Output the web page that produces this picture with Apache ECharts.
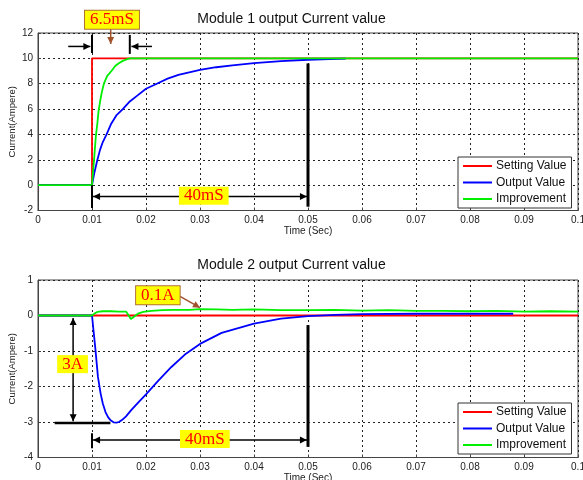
<!DOCTYPE html>
<html><head><meta charset="utf-8">
<script src="https://cdn.jsdelivr.net/npm/echarts@6/dist/echarts.min.js"></script>
<style>html,body{margin:0;padding:0;background:#fff}#c{width:583px;height:480px}</style>
</head><body><div id="c"></div>
<script>
// ---------- data ----------
const seriesNames = ['Setting Value', 'Output Value', 'Improvement'];
const titles = ['Module 1 output Current value', 'Module 2 output Current value'];
const xTickMin = 0, xTickMax = 0.1, xTickStep = 0.01;
const yTicks1 = {min: -2, max: 12, step: 2};
const yTicks2 = {min: -4, max: 1, step: 1};

// Module 1
const setTime1 = [0, 0.01, 0.01, 0.1];
const setVal1  = [0, 0, 10, 10];
const outTime1 = [0, 0.01, 0.0105, 0.011, 0.0115, 0.012, 0.0127, 0.0135, 0.0145, 0.0157, 0.017, 0.0185, 0.020, 0.022, 0.024, 0.026, 0.028, 0.030, 0.033, 0.036, 0.040, 0.045, 0.050, 0.054, 0.057];
const outVal1  = [0, 0, 1.1, 2.0, 2.8, 3.4, 4.0, 4.8, 5.5, 6.0, 6.6, 7.1, 7.6, 8.0, 8.4, 8.7, 8.9, 9.09, 9.3, 9.45, 9.63, 9.78, 9.89, 9.95, 9.98];
const impTime1 = [0, 0.01, 0.0102, 0.0104, 0.0107, 0.011, 0.0112, 0.0115, 0.0118, 0.0122, 0.0128, 0.0136, 0.0143, 0.0149, 0.0157, 0.0164, 0.017, 0.1];
const impVal1  = [0, 0, 1.1, 2.1, 3.8, 4.9, 5.8, 6.6, 7.3, 8.0, 8.6, 9.0, 9.4, 9.6, 9.8, 9.92, 10, 10];

// Module 2
const setTime2 = [0, 0.1];
const setVal2  = [0, 0];
const outTime2 = [0, 0.01, 0.0103, 0.0106, 0.0111, 0.0116, 0.012, 0.0125, 0.013, 0.0135, 0.014, 0.0145, 0.015, 0.0156, 0.0163, 0.0173, 0.0185, 0.02, 0.0222, 0.0247, 0.0272, 0.03, 0.034, 0.04, 0.045, 0.05, 0.055, 0.06, 0.07, 0.08, 0.088];
const outVal2  = [0, 0, -0.45, -0.9, -1.73, -2.2, -2.48, -2.72, -2.87, -2.96, -3.01, -3.02, -3.0, -2.94, -2.84, -2.66, -2.46, -2.22, -1.85, -1.45, -1.1, -0.8, -0.49, -0.23, -0.09, -0.02, 0.02, 0.04, 0.05, 0.05, 0.05];
const impTime2 = [0, 0.01, 0.0105, 0.011, 0.012, 0.0135, 0.015, 0.0163, 0.0168, 0.0172, 0.0177, 0.0185, 0.0195, 0.021, 0.023, 0.025, 0.028, 0.03, 0.033, 0.036, 0.04, 0.045, 0.05, 0.055, 0.06, 0.065, 0.07, 0.075, 0.08, 0.085, 0.09, 0.095, 0.1];
const impVal2  = [0, 0, 0.06, 0.1, 0.12, 0.12, 0.11, 0.11, 0.0, -0.1, -0.04, 0.05, 0.1, 0.13, 0.15, 0.16, 0.16, 0.18, 0.17, 0.16, 0.17, 0.15, 0.15, 0.16, 0.14, 0.15, 0.13, 0.13, 0.12, 0.13, 0.11, 0.12, 0.11];

// annotations (data coordinates)
const annoLines = [
  {g:0, a:[0.01, 11.87], b:[0.01, 10.42], w:2},
  {g:0, a:[0.0170, 11.85], b:[0.0170, 10.35], w:2},
  {g:0, a:[0.01, 0], b:[0.01, -1.8], w:2},
  {g:0, a:[0.05, 9.6], b:[0.05, -1.7], w:3},
  {g:1, a:[0.0031, -3.03], b:[0.0134, -3.03], w:2.5},
  {g:1, a:[0.01, -3.32], b:[0.01, -3.74], w:2},
  {g:1, a:[0.05, -0.27], b:[0.05, -3.7], w:3}
];
const annoArrows = [
  {g:0, a:[0.0056, 10.94], b:[0.0097, 10.94], both:false, c:'#000'},
  {g:0, a:[0.0211, 10.94], b:[0.0173, 10.94], both:false, c:'#000'},
  {g:0, a:[0.0102, -0.9], b:[0.0498, -0.9], both:true, c:'#000'},
  {g:0, a:[0.01346, 12.39], b:[0.01346, 11.13], both:false, c:'#a0522d'},
  {g:1, a:[0.0065, -0.07], b:[0.0065, -2.98], both:true, c:'#000'},
  {g:1, a:[0.0102, -3.51], b:[0.0498, -3.51], both:true, c:'#000'},
  {g:1, a:[0.0263, 0.54], b:[0.030, 0.22], both:false, c:'#a0522d'}
];
const annoLabels = [
  {g:0, p:[0.0137, 13.05], text:'6.5mS', border:true},
  {g:0, p:[0.0307, -0.83], text:'40mS', border:false},
  {g:1, p:[0.0222, 0.57], text:'0.1A', border:true},
  {g:1, p:[0.0064, -1.37], text:'3A', border:false},
  {g:1, p:[0.0309, -3.48], text:'40mS', border:false}
];

// ---------- chart ----------
const FONT = '"Liberation Sans", Arial, sans-serif';
const SERIF = '"Liberation Serif", "Times New Roman", serif';
const colors = ['#ff0000', '#0000ff', '#00ee00'];
const chart = echarts.init(document.getElementById('c'));
const pairs = (t, v) => t.map((x, i) => [x, v[i]]);

const gridTop = [33, 280];
function xAx(g) {
  return {
    type: 'value', gridIndex: g, min: xTickMin, max: xTickMax, interval: xTickStep,
    name: 'Time (Sec)', nameLocation: 'middle', nameGap: 16, nameMoveOverlap: false,
    nameTextStyle: {fontSize: 10, color: '#222', fontFamily: FONT},
    axisLine: {show: true, onZero: false, lineStyle: {color: '#444', width: 1}},
    axisTick: {show: true, inside: true, length: 3, lineStyle: {color: '#444'}},
    axisLabel: {fontSize: 10, color: '#222', fontFamily: FONT, margin: 5,
      formatter: v => String(+v.toFixed(2))},
    splitLine: {show: true, lineStyle: {color: '#222', type: [2, 3], width: 1}}
  };
}
function yAx(g, t) {
  return {
    type: 'value', gridIndex: g, min: t.min, max: t.max, interval: t.step,
    name: 'Current(Ampere)', nameLocation: 'middle', nameGap: 21, nameMoveOverlap: false,
    nameTextStyle: {fontSize: 9.5, color: '#222', fontFamily: FONT},
    axisLine: {show: true, onZero: false, lineStyle: {color: '#444', width: 1}},
    axisTick: {show: true, inside: true, length: 3, lineStyle: {color: '#444'}},
    axisLabel: {fontSize: 10, color: '#222', fontFamily: FONT, margin: 5},
    splitLine: {show: true, lineStyle: {color: '#222', type: [2, 3], width: 1}}
  };
}
function ser(name, g, t, v, ci) {
  return {
    name, type: 'line', xAxisIndex: g, yAxisIndex: g, data: pairs(t, v),
    showSymbol: false, symbol: 'none', animation: false,
    lineStyle: {color: colors[ci], width: 1.8}, itemStyle: {color: colors[ci]}
  };
}
function legend(top) {
  return {
    data: seriesNames, orient: 'vertical', left: 458, top,
    backgroundColor: '#fff', borderColor: '#333', borderWidth: 1,
    padding: [2, 5, 2, 5], itemWidth: 29, itemHeight: 2, itemGap: 2.5, icon: 'rect',
    textStyle: {fontSize: 12, lineHeight: 14, color: '#111', fontFamily: FONT, padding: [0, 0, 0, -1]},
    selectedMode: false
  };
}

const option = {
  backgroundColor: '#fff',
  animation: false,
  title: titles.map((t, i) => ({
    text: t, left: 'center', top: i === 0 ? 12 : 258, padding: [0, 0, 0, 32],
    textStyle: {fontSize: 14, fontWeight: 'normal', color: '#111', fontFamily: FONT}
  })),
  legend: [legend(157), legend(403)],
  grid: gridTop.map(top => ({
    left: 38, right: 5, top, height: 177.5, show: true, containLabel: false,
    outerBoundsMode: 'none',
    borderColor: '#444', borderWidth: 1, backgroundColor: '#fff'
  })),
  xAxis: [xAx(0), xAx(1)],
  yAxis: [yAx(0, yTicks1), yAx(1, yTicks2)],
  series: [
    ser(seriesNames[0], 0, setTime1, setVal1, 0),
    ser(seriesNames[1], 0, outTime1, outVal1, 1),
    ser(seriesNames[2], 0, impTime1, impVal1, 2),
    ser(seriesNames[0], 1, setTime2, setVal2, 0),
    ser(seriesNames[1], 1, outTime2, outVal2, 1),
    ser(seriesNames[2], 1, impTime2, impVal2, 2)
  ]
};
chart.setOption(option);

// ---------- annotations as graphics ----------
const px = (g, p) => chart.convertToPixel({gridIndex: g}, p);
const els = [];
function head(tip, from, color) {
  const dx = tip[0] - from[0], dy = tip[1] - from[1];
  const L = Math.hypot(dx, dy) || 1;
  const ux = dx / L, uy = dy / L, nx = -uy, ny = ux;
  const hl = 7, hw = 3.5;
  els.push({type: 'polygon', z: 20, shape: {points: [
    [tip[0], tip[1]],
    [tip[0] - hl * ux + hw * nx, tip[1] - hl * uy + hw * ny],
    [tip[0] - hl * ux - hw * nx, tip[1] - hl * uy - hw * ny]
  ]}, style: {fill: color}});
}
annoLines.forEach(l => {
  const a = px(l.g, l.a), b = px(l.g, l.b);
  els.push({type: 'line', z: 20, shape: {x1: a[0], y1: a[1], x2: b[0], y2: b[1]},
    style: {stroke: '#000', lineWidth: l.w}});
});
annoArrows.forEach(r => {
  const a = px(r.g, r.a), b = px(r.g, r.b);
  els.push({type: 'line', z: 20, shape: {x1: a[0], y1: a[1], x2: b[0], y2: b[1]},
    style: {stroke: r.c, lineWidth: 1.5}});
  head(b, a, r.c);
  if (r.both) head(a, b, r.c);
});
annoLabels.forEach(l => {
  const p = px(l.g, l.p);
  els.push({type: 'text', z: 30, x: p[0], y: p[1], style: {
    text: l.text, fill: '#ff0000', font: '17px ' + SERIF,
    align: 'center', verticalAlign: 'middle',
    backgroundColor: '#ffff00', padding: [1, 5, 0, 5],
    borderColor: l.border ? '#b07030' : null, borderWidth: l.border ? 1 : 0
  }});
});
chart.setOption({graphic: els});
</script>
</body></html>
